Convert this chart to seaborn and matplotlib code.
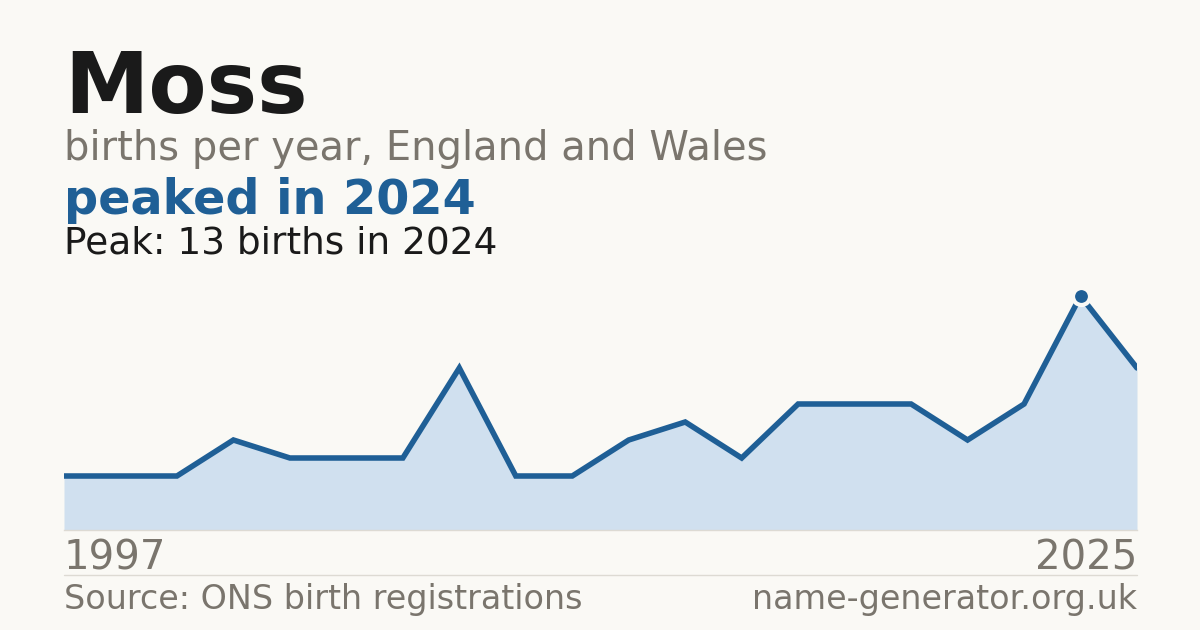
import matplotlib
matplotlib.use("Agg")
import matplotlib.pyplot as plt
import seaborn as sns
import numpy as np
import pandas as pd

# Data (points are evenly spaced, first = 1997, last = 2025)
births = [3, 3, 3, 5, 4, 4, 4, 9, 3, 3, 5, 6, 4, 7, 7, 7, 5, 7, 13, 9]
first_year = "1997"
last_year = "2025"
peak_label = "2024"

name = "Moss"
subtitle = "births per year, England and Wales"
headline = "peaked in 2024"
peak_text = "Peak: 13 births in 2024"
source = "Source: ONS birth registrations"
site = "name-generator.org.uk"

BG = "#faf9f5"
BLUE = "#1f5f96"
FILL = "#d0e0ef"
GREY = "#7a756d"
DARK = "#1a1a1a"

sns.set_theme(style="white")
plt.rcParams["font.family"] = ["DejaVu Sans"]

W, H = 1200, 630
fig = plt.figure(figsize=(12, 6.3), dpi=100, facecolor=BG)


def px(x, y):
    return x / W, 1 - y / H


df = pd.DataFrame({"idx": np.arange(len(births)), "births": births})

# plot area: x 64..1137, y 278..530 (value 0..14)
ax = fig.add_axes([64 / W, (H - 530) / H, (1137 - 64) / W, (530 - 278) / H])
ax.set_facecolor(BG)
ax.fill_between(df["idx"], df["births"], 0, color=FILL, lw=0, zorder=1)
sns.lineplot(data=df, x="idx", y="births", ax=ax, color=BLUE, lw=4,
             solid_joinstyle="miter", zorder=2)
pk = int(np.argmax(births))
ax.scatter([pk], [births[pk]], s=150, color=BLUE, edgecolor=BG,
           linewidth=3, zorder=3)
ax.set_xlim(0, len(births) - 1)
ax.set_ylim(0, 14)
ax.set_xticks([])
ax.set_yticks([])
ax.set_xlabel("")
ax.set_ylabel("")
for s in ["top", "left", "right"]:
    ax.spines[s].set_visible(False)
ax.spines["bottom"].set_color("#dddad3")
ax.spines["bottom"].set_linewidth(1)

# header texts
fig.text(*px(64, 113), name, fontsize=61, fontweight="bold", color=DARK, va="baseline")
fig.text(*px(64, 160), subtitle, fontsize=28.8, color=GREY, va="baseline")
fig.text(*px(64, 214), headline, fontsize=34.4, fontweight="bold", color=BLUE, va="baseline")
fig.text(*px(64, 254), peak_text, fontsize=27, color=DARK, va="baseline")

# year labels
fig.text(*px(64, 570), first_year, fontsize=29, color=GREY, va="baseline")
fig.text(*px(1137, 570), last_year, fontsize=29, color=GREY, va="baseline", ha="right")

# divider
fig.add_artist(plt.Line2D([64 / W, 1137 / W], [1 - 574.5 / H, 1 - 574.5 / H],
                          color="#dddad3", lw=1))

# footer
fig.text(*px(64, 609), source, fontsize=24, color=GREY, va="baseline")
fig.text(*px(1137, 609), site, fontsize=24, color=GREY, va="baseline", ha="right")

fig.savefig("out.png", dpi=100, facecolor=BG)
